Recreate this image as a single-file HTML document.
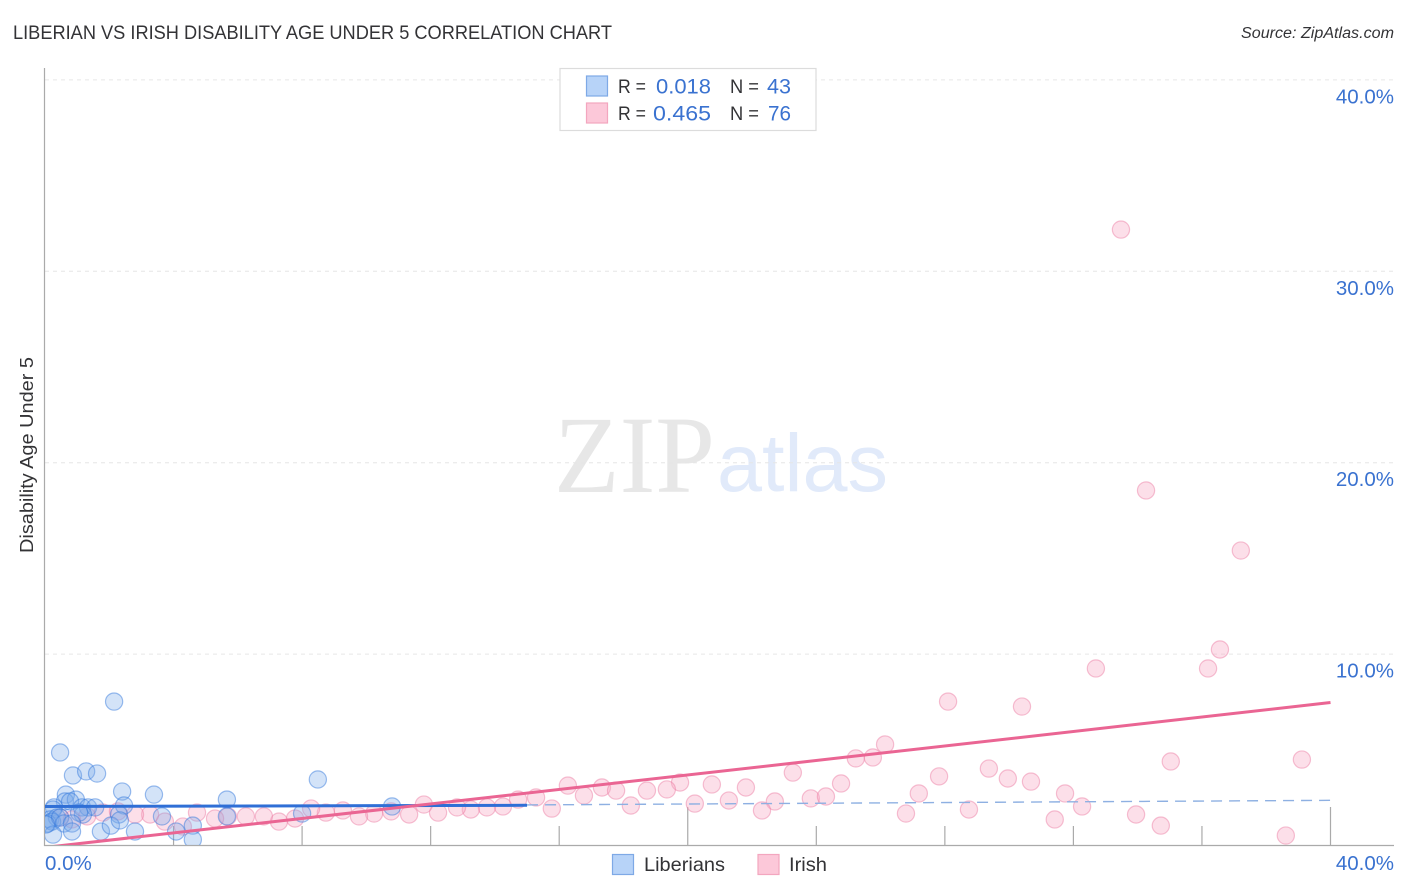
<!DOCTYPE html>
<html lang="en">
<head>
<meta charset="utf-8">
<title>Liberian vs Irish Disability Age Under 5 Correlation Chart</title>
<style>
html,body{margin:0;padding:0;background:#fff;width:1406px;height:892px;overflow:hidden}
svg{display:block;font-family:"Liberation Sans",sans-serif}
</style>
</head>
<body>
<svg id="chart" width="1406" height="892" viewBox="0 0 1406 892" xmlns="http://www.w3.org/2000/svg">
<defs><clipPath id="plot-clip"><rect x="45" y="68" width="1349" height="777"/></clipPath></defs>
<text x="13" y="39" font-size="19" fill="#333336" textLength="599" lengthAdjust="spacingAndGlyphs">LIBERIAN VS IRISH DISABILITY AGE UNDER 5 CORRELATION CHART</text>
<text x="1394" y="38" font-size="15.5" font-style="italic" fill="#333336" text-anchor="end" textLength="153" lengthAdjust="spacingAndGlyphs">Source: ZipAtlas.com</text>
<text x="554" y="492" font-family="Liberation Serif" font-size="110" fill="#e7e7e7" textLength="161" lengthAdjust="spacingAndGlyphs">ZIP</text>
<text x="717" y="491" font-size="82" fill="#e1eafa" textLength="171" lengthAdjust="spacingAndGlyphs">atlas</text>
<g id="grid"></g>
<g id="axes"></g>
<g id="pink-points" clip-path="url(#plot-clip)"></g>
<g id="blue-points" clip-path="url(#plot-clip)"></g>
<g id="trends" clip-path="url(#plot-clip)"></g>
<text transform="translate(33 455) rotate(-90)" font-size="18" fill="#333336" text-anchor="middle" textLength="196" lengthAdjust="spacingAndGlyphs">Disability Age Under 5</text>
<g>
<rect x="560" y="68.5" width="256" height="62" fill="#fff" stroke="#dcdcdc" stroke-width="1.2"/>
<rect x="586.5" y="76" width="21" height="20" fill="#b7d3f8" stroke="#7ea9e6" stroke-width="1.2"/>
<rect x="586.5" y="103" width="21" height="20" fill="#fcc8d9" stroke="#f3a6bf" stroke-width="1.2"/>
<text x="618" y="93" font-size="19" fill="#333336" textLength="28" lengthAdjust="spacingAndGlyphs">R =</text>
<text x="711" y="93.500" font-size="21" fill="#3a72d0" text-anchor="end" textLength="55" lengthAdjust="spacingAndGlyphs">0.018</text>
<text x="730" y="93" font-size="19" fill="#333336" textLength="29" lengthAdjust="spacingAndGlyphs">N =</text>
<text x="791" y="93.500" font-size="21" fill="#3a72d0" text-anchor="end" textLength="24" lengthAdjust="spacingAndGlyphs">43</text>
<text x="618" y="120" font-size="19" fill="#333336" textLength="28" lengthAdjust="spacingAndGlyphs">R =</text>
<text x="711" y="120.500" font-size="21" fill="#3a72d0" text-anchor="end" textLength="58" lengthAdjust="spacingAndGlyphs">0.465</text>
<text x="730" y="120" font-size="19" fill="#333336" textLength="29" lengthAdjust="spacingAndGlyphs">N =</text>
<text x="791" y="120.500" font-size="21" fill="#3a72d0" text-anchor="end" textLength="23" lengthAdjust="spacingAndGlyphs">76</text>
</g>
<g>
<rect x="612.500" y="854.500" width="21" height="20" fill="#b7d3f8" stroke="#7ea9e6" stroke-width="1.2"/>
<text x="644" y="871" font-size="19.500" fill="#333336" textLength="81" lengthAdjust="spacingAndGlyphs">Liberians</text>
<rect x="758" y="854.500" width="21" height="20" fill="#fcc8d9" stroke="#f3a6bf" stroke-width="1.2"/>
<text x="789" y="871" font-size="19.500" fill="#333336" textLength="38" lengthAdjust="spacingAndGlyphs">Irish</text>
</g>
</svg>
<script>
const yTickValues = [10, 20, 30, 40];
const yTickLabels = ["10.0%", "20.0%", "30.0%", "40.0%"];
const xTickValues = [4, 8, 12, 16, 20, 24, 28, 32, 36, 40];
const xMajorTicks = [20, 40];
const xEndValues = [0, 40];
const xEndLabels = ["0.0%", "40.0%"];

const liberiansX = [2.15,0.47,0.87,1.28,1.62,2.40,3.39,5.66,8.49,10.80,0.65,0.62,0.96,0.78,0.28,1.15,1.34,1.56,2.46,1.18,1.06,2.30,0.25,0.16,0.37,0.09,0.22,0.47,0.59,0.84,0.84,0.25,1.74,2.05,2.80,3.64,4.08,4.60,4.60,5.66,8.00,2.33,0.03];
const liberiansY = [7.52,4.86,3.66,3.87,3.76,2.82,2.66,2.40,3.45,2.04,2.66,2.30,2.40,2.30,1.99,1.99,1.99,1.99,2.09,1.62,1.72,1.62,1.88,1.36,1.46,1.15,1.25,1.46,1.15,1.15,0.73,0.57,0.73,1.04,0.73,1.52,0.73,1.04,0.31,1.52,1.67,1.31,1.10];

const irishX = [33.48,34.26,37.21,36.56,36.19,32.70,28.10,30.40,39.11,35.03,26.14,25.76,25.23,23.27,29.37,27.82,29.96,30.68,24.77,20.75,19.76,16.27,17.33,17.77,16.77,18.73,19.35,21.81,27.19,31.74,21.28,22.71,23.83,24.30,20.22,18.23,15.77,22.31,26.79,28.75,32.27,33.95,31.42,34.72,38.61,15.28,14.72,14.25,13.75,13.25,12.82,12.23,11.79,11.33,10.77,10.24,9.77,9.27,8.74,8.28,7.78,7.28,6.81,6.25,5.69,5.29,4.73,4.29,3.73,3.27,2.80,1.80,1.31,0.47,2.27,0.84];
const irishY = [32.18,18.55,15.41,10.24,9.25,9.25,7.52,7.26,4.49,4.39,5.28,4.60,4.55,3.81,4.02,3.61,3.50,3.34,3.24,3.19,3.29,3.13,3.03,2.87,2.61,2.87,2.93,3.03,2.72,2.72,2.35,2.30,2.46,2.56,2.19,2.09,1.93,1.83,1.67,1.88,2.04,1.62,1.36,1.04,0.52,2.51,2.40,2.04,1.99,1.88,1.99,1.72,2.14,1.62,1.78,1.67,1.52,1.83,1.72,1.93,1.41,1.25,1.52,1.52,1.52,1.41,1.72,0.99,1.25,1.62,1.62,1.72,1.52,1.46,1.78,1.36];

const liberiansTrendSolidX = [0, 15];
const liberiansTrendSolidY = [2.04, 2.10];
const liberiansTrendDashX = [15, 40];
const liberiansTrendDashY = [2.12, 2.36];
const irishTrendX = [0, 40];
const irishTrendY = [-0.1, 7.47];

const NS = 'http://www.w3.org/2000/svg';
function sx(v){ return 45 + v * 32.1375; }
function sy(v){ return 845.5 - v * 19.14; }
function make(tag, attrs, parent){
  const el = document.createElementNS(NS, tag);
  for (const k in attrs) el.setAttribute(k, attrs[k]);
  parent.appendChild(el);
  return el;
}
const grid = document.getElementById('grid');
const axes = document.getElementById('axes');
const pinkG = document.getElementById('pink-points');
const blueG = document.getElementById('blue-points');
const trends = document.getElementById('trends');

yTickValues.forEach((v, i) => {
  const line = make('line', {x1:45, x2:1394, y1:sy(v), y2:sy(v), stroke:'#e6e6e6', 'stroke-width':1, 'stroke-dasharray':'4 4'}, grid);
  
  
  const label = make('text', {x:1394, y:sy(v) + 23.5, 'text-anchor':'end', 'font-size':20.5, fill:'#3a72d0'}, axes);
  
  
  label.textContent = yTickLabels[i];
});

const yAxis = make('line', {x1:44.5, x2:44.5, y1:68, y2:846, stroke:'#aaaaaa', 'stroke-width':1.2}, axes);


const xAxis = make('line', {x1:44, x2:1394, y1:845.5, y2:845.5, stroke:'#aaaaaa', 'stroke-width':1.2}, axes);



xTickValues.forEach(v => {
  const top = xMajorTicks.includes(v) ? 807 : 826;
  const tick = make('line', {x1:sx(v), x2:sx(v), y1:top, y2:845.5, stroke:'#aaaaaa', 'stroke-width':1.2}, axes);
  
  
});

xEndValues.forEach((v, i) => {
  const label = make('text', {x:i === 0 ? 45 : 1394, y:870, 'text-anchor':i === 0 ? 'start' : 'end', 'font-size':20.5, fill:'#3a72d0'}, axes);
  
  
  label.textContent = xEndLabels[i];
});

irishX.forEach((v, i) => {
  const c = make('circle', {cx:sx(v), cy:sy(irishY[i]), r:8.6, fill:'rgba(248,170,196,0.38)', stroke:'rgba(236,120,160,0.45)', 'stroke-width':1.2}, pinkG);
  
  
});

liberiansX.forEach((v, i) => {
  const c = make('circle', {cx:sx(v), cy:sy(liberiansY[i]), r:8.6, fill:'rgba(120,170,235,0.33)', stroke:'rgba(50,120,220,0.48)', 'stroke-width':1.2}, blueG);
  
  
});

const dash = make('line', {x1:sx(liberiansTrendDashX[0]), y1:sy(liberiansTrendDashY[0]), x2:sx(liberiansTrendDashX[1]), y2:sy(liberiansTrendDashY[1]), stroke:'#8eb0e2', 'stroke-width':1.4, 'stroke-dasharray':'11 7'}, trends);


const solid = make('line', {x1:sx(liberiansTrendSolidX[0]), y1:sy(liberiansTrendSolidY[0]), x2:sx(liberiansTrendSolidX[1]), y2:sy(liberiansTrendSolidY[1]), stroke:'#2f6fd6', 'stroke-width':3}, trends);


const pinkLine = make('line', {x1:sx(irishTrendX[0]), y1:sy(irishTrendY[0]), x2:sx(irishTrendX[1]), y2:sy(irishTrendY[1]), stroke:'#ea6593', 'stroke-width':3}, trends);


</script>
</body>
</html>
